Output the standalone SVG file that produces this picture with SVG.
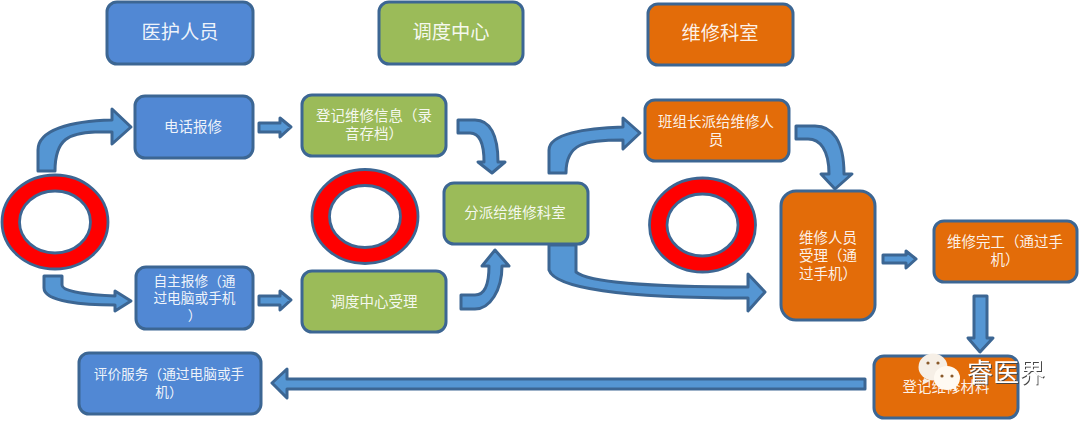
<svg xmlns="http://www.w3.org/2000/svg" width="1080" height="421" viewBox="0 0 1080 421">
<defs>
<style>
.n{stroke:#3c6693;stroke-width:3}
.b{fill:#5188d4}.g{fill:#9bbb59}.o{fill:#e36c09}
.r{fill:#f00;fill-rule:evenodd;stroke:#3c6693;stroke-width:2.8}
.a{fill:#5596d3;stroke:#3c6693;stroke-width:3;stroke-linejoin:round}
text{font-family:"Noto Sans CJK SC","Liberation Sans",sans-serif;fill:#fff;text-anchor:middle;font-size:14.5px;fill-opacity:.92}
.h{font-size:19.3px}
.s{font-size:13.7px}
.w{font-size:26px;fill:#fff;fill-opacity:1;filter:url(#sh)}
</style>
<filter id="sh" x="-10%" y="-20%" width="120%" height="140%"><feDropShadow dx="1" dy="1" stdDeviation="0.7" flood-color="#444"/></filter>
</defs>
<rect width="1080" height="421" fill="#fff"/>
<g id="connectors">
<path class="a" d="M38 171V150C38 130 70 121 112 120V109L131 127L112 144V132H95C70 133 55 138 55 171Z"/>
<path class="a" d="M44 276H62V285C62 292 90 295 115 296V291L131 301L115 311V305C85 305 44 302 44 288Z"/>
<path class="a" d="M259 123H280V118L291 127L280 137V132H259Z"/>
<path class="a" d="M259 296H280V291L291 300L280 310V305H259Z"/>
<path class="a" d="M458 120H475C490 120 498 135 498 162H505L492 173L478 162H484C484 145 480 133 470 133H458Z"/>
<path class="a" d="M461 295H475C485 295 489 285 489 266H482L495 250L509 266H502C502 290 490 309 475 309H461Z"/>
<path class="a" d="M549 173V150C549 134 585 128 623 127V118L640 133L623 149V140C585 140 566 143 566 173Z"/>
<path class="a" d="M549 245H576V272C590 284 670 287 748 287V274L765 292L748 311V298C620 298 555 288 549 270Z"/>
<path class="a" d="M796 126H815C832 126 844 140 844 174H852L835 189L821 174H829C829 150 820 139 808 139H796Z"/>
<path class="a" d="M883 255H906V251L916 259L906 268V263H883Z"/>
<path class="a" d="M974 296H987V338H993L980 352L968 338H974Z"/>
<path class="a" d="M865 379H287V369L272 383L287 398V389H865Z"/>
</g>
<g id="header-medical"><rect class="n b" x="107" y="2" width="146" height="62" rx="10"/><text class="h" x="180" y="39">医护人员</text></g>
<g id="header-dispatch"><rect class="n g" x="379" y="2" width="144" height="62" rx="10"/><text class="h" x="451" y="39">调度中心</text></g>
<g id="header-repair"><rect class="n o" x="648" y="4" width="145" height="61" rx="10"/><text class="h" x="720" y="40">维修科室</text></g>
<g id="ring-1"><path class="r" d="M2 222a53 47 0 1 0 106 0a53 47 0 1 0-106 0ZM19.500 222a35.500 31 0 1 0 71 0a35.500 31 0 1 0-71 0Z"/></g>
<g id="ring-2"><path class="r" d="M312 216.500a53 47 0 1 0 106 0a53 47 0 1 0-106 0ZM329.500 216.500a35.500 31 0 1 0 71 0a35.500 31 0 1 0-71 0Z"/></g>
<g id="ring-3"><path class="r" d="M649.500 225a53 47 0 1 0 106 0a53 47 0 1 0-106 0ZM667 225a35.500 31 0 1 0 71 0a35.500 31 0 1 0-71 0Z"/></g>
<g id="phone-report"><rect class="n b" x="135" y="96" width="118" height="62" rx="10"/><text x="193" y="132">电话报修</text></g>
<g id="self-report"><rect class="n b" x="136" y="267" width="117" height="62" rx="10"/><text class="s" x="194.500" y="286">自主报修（通</text><text class="s" x="194.500" y="303">过电脑或手机</text><text class="s" x="194.500" y="320">）</text></g>
<g id="register-info"><rect class="n g" x="302" y="95" width="144" height="61" rx="10"/><text x="374" y="121">登记维修信息（录</text><text x="374" y="139">音存档）</text></g>
<g id="dispatch-accept"><rect class="n g" x="302" y="271" width="144" height="61" rx="10"/><text x="374" y="307">调度中心受理</text></g>
<g id="assign"><rect class="n g" x="444" y="183" width="144" height="61" rx="10"/><text x="515" y="218">分派给维修科室</text></g>
<g id="team-leader"><rect class="n o" x="645" y="100" width="144" height="61" rx="10"/><text x="716" y="127">班组长派给维修人</text><text x="716" y="145">员</text></g>
<g id="repair-accept"><rect class="n o" x="781" y="191" width="94" height="129" rx="15"/><text x="828" y="243">维修人员</text><text x="828" y="261">受理（通</text><text x="828" y="279">过手机）</text></g>
<g id="repair-done"><rect class="n o" x="934" y="221" width="143" height="61" rx="10"/><text x="1005" y="247">维修完工（通过手</text><text x="1005" y="265">机）</text></g>
<g id="register-material"><rect class="n o" x="874" y="356" width="144" height="62" rx="10"/><text x="946" y="392">登记维修材料</text></g>
<g id="evaluate"><rect class="n b" x="79" y="353" width="182" height="61" rx="10"/><text class="s" x="169" y="379">评价服务（通过电脑或手</text><text class="s" x="169" y="397">机）</text></g>
<g id="watermark">
<ellipse cx="933" cy="367" rx="14.500" ry="13.500" fill="#f6efe6"/>
<path d="M924 378l-2 7 8-4z" fill="#f6efe6"/>
<circle cx="928" cy="363" r="1.600" fill="#8a5a2a"/><circle cx="938" cy="363" r="1.600" fill="#8a5a2a"/>
<ellipse cx="947" cy="378" rx="13" ry="12" fill="#fffaf2"/>
<path d="M953 388l4 5-1-7z" fill="#fffaf2"/>
<circle cx="942" cy="376" r="1.600" fill="#8a5a2a"/><circle cx="952" cy="376" r="1.600" fill="#8a5a2a"/>
<text class="w" x="1006" y="382">睿医界</text>
</g>
</svg>
